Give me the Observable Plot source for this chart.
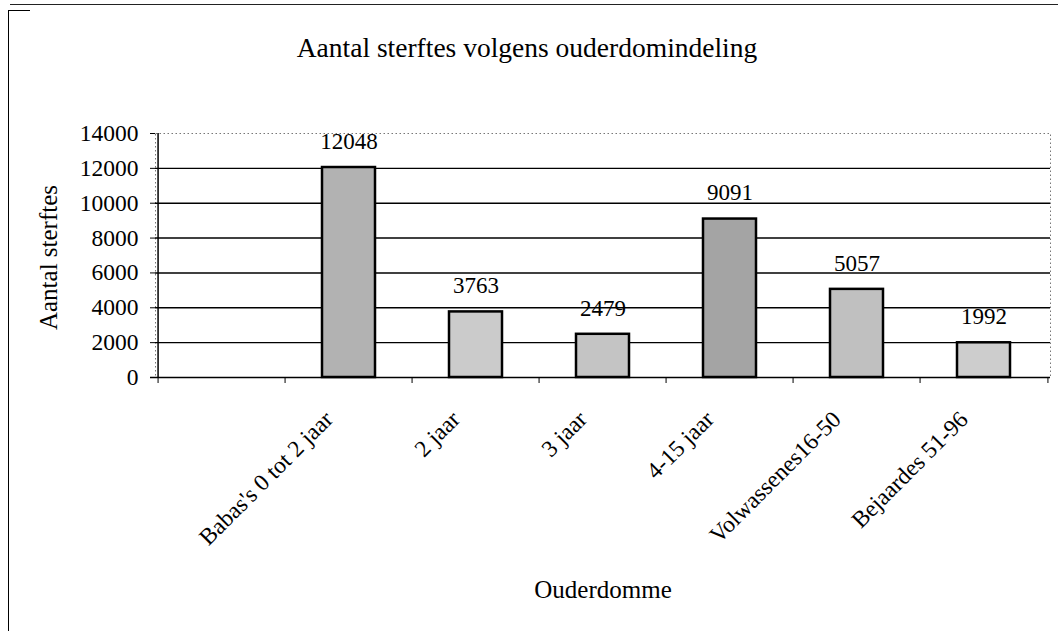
<!DOCTYPE html>
<html><head><meta charset="utf-8">
<script src="https://cdn.jsdelivr.net/npm/d3@7"></script>
<script src="https://cdn.jsdelivr.net/npm/@observablehq/plot@0.6"></script>
<style>
body{margin:0;background:#fff;}
#wrap{position:relative;width:1058px;height:631px;overflow:hidden;font-family:"Liberation Serif","Times New Roman",Times,"DejaVu Serif","Noto Serif",serif;color:#000;}
#topline{position:absolute;left:10px;top:4px;width:1048px;height:0;border-top:1px solid #222;}
#leftline{position:absolute;left:8px;top:10px;width:0;height:630px;border-left:1px solid #000;}
#cornerline{position:absolute;left:8px;top:10px;width:22px;height:0;border-top:1px solid #000;}
#title{position:absolute;left:0;width:1054px;top:34px;text-align:center;font-size:27.5px;line-height:27px;}
#chart{position:absolute;left:0;top:0;}
#chart svg, #chart svg text{font-family:"Liberation Serif","Times New Roman",Times,"DejaVu Serif","Noto Serif",serif !important;}
</style></head><body>
<div id="wrap"><div id="topline"></div><div id="leftline"></div><div id="cornerline"></div>
<div id="chart"></div>
<div id="title">Aantal sterftes volgens ouderdomindeling</div></div>
<script>
const categories = ["Babas's 0 tot 2 jaar","2 jaar","3 jaar","4-15 jaar","Volwassenes16-50","Bejaardes 51-96"];
const deaths = [12048,3763,2479,9091,5057,1992];
const yTicks = [0,2000,4000,6000,8000,10000,12000,14000];
const barGrays = ["#b2b2b2","#cbcbcb","#c4c4c4","#a4a4a4","#c0c0c0","#cdcdcd"];
const yTitle = "Aantal sterftes";
const xTitle = "Ouderdomme";

const data = categories.map((c,i)=>({category:c, value:deaths[i]}));
const domain = ["", ...categories];
const W=1058,H=631, mL=155, mR=8, mT=133, mB=254;
const step=(W-mL-mR)/domain.length;

const plot = Plot.plot({
  width:W, height:H, marginLeft:mL, marginRight:mR, marginTop:mT, marginBottom:mB,
  style:{fontSize:"23px", color:"#000", background:"transparent", overflow:"visible"},
  x:{type:"band", domain, padding:0, label:null, axis:null},
  y:{domain:[0,14000], label:null},
  color:{domain:categories, range:barGrays},
  marks:[
    Plot.frame({stroke:"#777", strokeDasharray:"1.5,2.5"}),
    Plot.gridY(yTicks.filter(v=>v>0&&v<14000), {stroke:"#000", strokeOpacity:1, strokeWidth:1.4}),
    Plot.barY(data,{x:"category", y:"value", fill:"category", stroke:"#000", strokeWidth:2.5, insetLeft:37, insetRight:37}),
    Plot.text(data,{x:"category", y:"value", text:d=>String(d.value), dy:-26, fontSize:23}),
    Plot.ruleY([0],{stroke:"#000", strokeWidth:1.5, insetLeft:-5}),
    Plot.ruleX([domain[0]],{y1:0, y2:14000, dx:-step/2, stroke:"#000", strokeWidth:1.5}),
    Plot.ruleX(domain,{y1:0, y2:0, insetBottom:-6, dx:-step/2, stroke:"#000"}),
    Plot.ruleX([domain[domain.length-1]],{y1:0, y2:0, insetBottom:-6, dx:step/2, stroke:"#000"}),
    Plot.axisY({ticks:yTicks, tickFormat:d=>String(d), tickSize:5, tickPadding:12, fontSize:23.5, label:null}),
    Plot.text(categories,{x:d=>d, y:0, text:d=>d, rotate:-45, textAnchor:"end", dx:-20, dy:38, fontSize:23.5}),
    Plot.text([yTitle],{text:d=>d, frameAnchor:"left", rotate:-90, textAnchor:"middle", dx:-107, dy:2, fontSize:25}),
    Plot.text([xTitle],{text:d=>d, frameAnchor:"bottom", dy:220, fontSize:25})
  ]
});
document.getElementById("chart").appendChild(plot);
</script>
</body></html>
